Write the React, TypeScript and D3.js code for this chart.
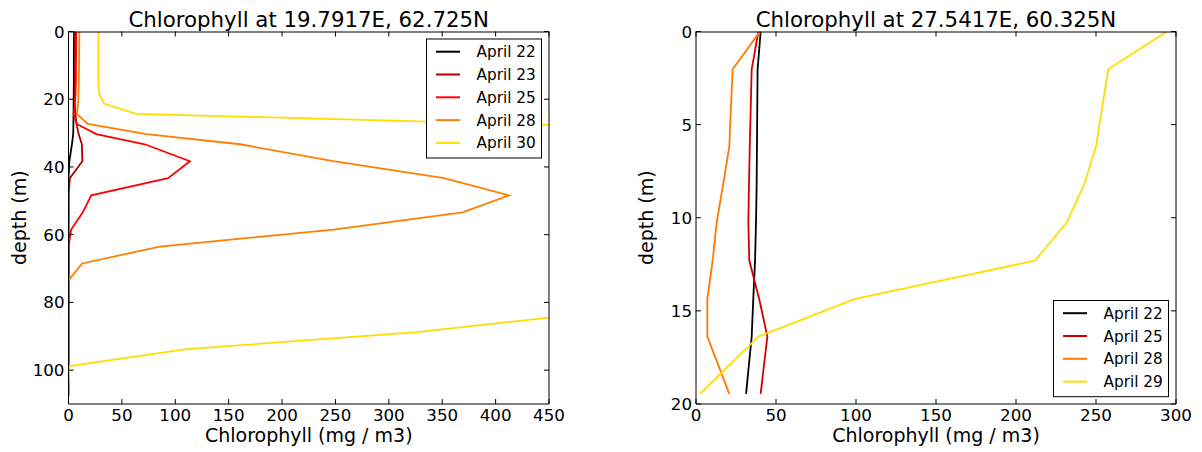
import React from 'react';
import * as d3 from 'd3';

// ---------- Left panel data (19.7917E, 62.725N) ----------
const depthsLeft = [0, 3.3, 6.3, 9.3, 12.3, 15.3, 18.3, 21.3, 24.3, 27.3, 30.3, 33.3, 38.3, 43.3, 48.4, 53.4, 58.5, 63.5, 68.5, 73.5, 78.6, 83.7, 88.8, 93.8, 98.8, 103.9, 107.5];
const leftLabels = ['April 22', 'April 23', 'April 25', 'April 28', 'April 30'];
const leftColors = ['#000000', '#b00000', '#ff0000', '#ff7f00', '#ffdd00'];
const leftApr22 = [5.2, 5.1, 5, 5, 5, 5, 4.9, 4.8, 4.7, 4.6, 4.4, 3.2, 0.8, 0, 0, 0, 0, 0, 0, 0, 0, 0, 0, 0, 0, 0, 0];
const leftApr23 = [6.2, 6.2, 6.2, 6.1, 6, 6, 5.9, 5.8, 6.5, 7.5, 9.5, 12.5, 13, 1.3, 0, 0, 0, 0, 0, 0, 0, 0, 0, 0, 0, 0, 0];
const leftApr25 = [7.2, 7.2, 7.1, 7, 7, 6.9, 6.6, 6.0, 4.7, 7.8, 26, 71.4, 113.7, 93.3, 21.3, 13.4, 2.5, 0, 0, 0, 0, 0, 0, 0, 0, 0, 0];
const leftApr28 = [10.2, 10.1, 10, 10, 9.8, 9.6, 9.3, 9, 7.8, 18, 73, 160.7, 248, 351.7, 412.7, 369, 248.3, 85.5, 12.8, 0, 0, 0, 0, 0, 0, 0, 0];
const leftApr30 = [28, 28, 28, 28, 28, 28, 28.8, 33, 63.6, 415, 766, 1050, 1400, 1600, 1700, 1650, 1500, 1300, 1100, 900, 700, 472, 326.7, 110.6, 1, 0, 0];
const leftXTicks = [0, 50, 100, 150, 200, 250, 300, 350, 400, 450];
const leftYTicks = [0, 20, 40, 60, 80, 100];

// ---------- Right panel data (27.5417E, 60.325N) ----------
const depthsRight = [0, 2.03, 4.1, 6.18, 8.24, 10.26, 12.3, 14.36, 16.38, 19.46];
const rightLabels = ['April 22', 'April 25', 'April 28', 'April 29'];
const rightColors = ['#000000', '#d40000', '#ff7a00', '#ffdd00'];
const rightApr22 = [40.4, 38.5, 38.3, 38.1, 37.9, 37.5, 36.9, 35.8, 34.8, 31.3];
const rightApr25 = [39, 34.8, 34.2, 33.6, 33.1, 32.7, 33.3, 39.5, 44.6, 40.4];
const rightApr28 = [40, 22.9, 21.8, 20.8, 16.9, 12.9, 10.4, 7.1, 7.1, 20.8];
const rightApr29 = [294.2, 257.7, 253.8, 250, 242.5, 231.7, 211.9, 99.4, 39, 2.5];
const rightXTicks = [0, 50, 100, 150, 200, 250, 300];
const rightYTicks = [0, 5, 10, 15, 20];

const FONT = 'DejaVu Sans, sans-serif';

type PanelProps = {
  id: string;
  x0: number; x1: number; y0: number; y1: number;
  xMax: number; yMax: number;
  xTicks: number[]; yTicks: number[];
  title: string;
  depths: number[];
  series: number[][];
  labels: string[];
  colors: string[];
  legendX: number; legendY: number; legendW: number;
};

function Panel(p: PanelProps) {
  const x = d3.scaleLinear().domain([0, p.xMax]).range([p.x0, p.x1]);
  const y = d3.scaleLinear().domain([0, p.yMax]).range([p.y0, p.y1]);
  const line = d3.line<[number, number]>().x(d => x(d[0])).y(d => y(d[1]));
  const tick = 5;
  const rowH = 22.8;
  const legendH = p.labels.length * rowH + 5;
  return (
    <g>
      <defs>
        <clipPath id={p.id}>
          <rect x={p.x0} y={p.y0} width={p.x1 - p.x0} height={p.y1 - p.y0} />
        </clipPath>
      </defs>
      <g clipPath={`url(#${p.id})`}>
        {p.series.map((vals, i) => (
          <path key={i}
            d={line(vals.map((v, j) => [v, p.depths[j]] as [number, number])) || ''}
            fill="none" stroke={p.colors[i]} strokeWidth={1.8} strokeLinejoin="miter" />
        ))}
      </g>
      {/* spines */}
      <line x1={p.x0} x2={p.x1} y1={p.y0 + 0.5} y2={p.y0 + 0.5} stroke="#000" strokeWidth={1} />
      <line x1={p.x0} x2={p.x1} y1={p.y1} y2={p.y1} stroke="#000" strokeWidth={1} />
      <line x1={p.x0} x2={p.x0} y1={p.y0} y2={p.y1} stroke="#000" strokeWidth={1} />
      <line x1={p.x1} x2={p.x1} y1={p.y0} y2={p.y1} stroke="#000" strokeWidth={1} />
      {/* ticks */}
      {p.xTicks.map(t => (
        <g key={'xt' + t}>
          <line x1={x(t)} x2={x(t)} y1={p.y1} y2={p.y1 - tick} stroke="#000" />
          <line x1={x(t)} x2={x(t)} y1={p.y0} y2={p.y0 + tick} stroke="#000" />
          <text x={x(t)} y={p.y1 + 17} fontFamily={FONT} fontSize={16.7} textAnchor="middle">{t}</text>
        </g>
      ))}
      {p.yTicks.map(t => (
        <g key={'yt' + t}>
          <line x1={p.x0} x2={p.x0 + tick} y1={y(t)} y2={y(t)} stroke="#000" />
          <line x1={p.x1} x2={p.x1 - tick} y1={y(t)} y2={y(t)} stroke="#000" />
          <text x={p.x0 - 4} y={y(t)} dy="0.36em" fontFamily={FONT} fontSize={16.7} textAnchor="end">{t}</text>
        </g>
      ))}
      <text x={(p.x0 + p.x1) / 2} y={p.y0 - 4.5} fontFamily={FONT} fontSize={21.3} textAnchor="middle">{p.title}</text>
      <text x={(p.x0 + p.x1) / 2} y={p.y1 + 38} fontFamily={FONT} fontSize={19} textAnchor="middle">Chlorophyll (mg / m3)</text>
      <text transform={`translate(${p.x0 - 43},${(p.y0 + p.y1) / 2}) rotate(-90)`} fontFamily={FONT} fontSize={19} textAnchor="middle">depth (m)</text>
      {/* legend */}
      <rect x={p.legendX} y={p.legendY} width={p.legendW} height={legendH} fill="#fff" stroke="#000" strokeWidth={1} />
      {p.labels.map((lab, i) => {
        const ry = p.legendY + 12.7 + i * rowH;
        return (
          <g key={lab}>
            <line x1={p.legendX + 9.5} x2={p.legendX + 33.5} y1={ry} y2={ry} stroke={p.colors[i]} strokeWidth={2} />
            <text x={p.legendX + 50} y={ry} dy="0.36em" fontFamily={FONT} fontSize={15.3}>{lab}</text>
          </g>
        );
      })}
    </g>
  );
}

export default function App() {
  return (
    <svg width={1202} height={452} style={{ position: 'absolute', left: 0, top: 0, background: '#fff' }}>
      <rect x={0} y={0} width={1202} height={452} fill="#fff" />
      <Panel id="clipL" x0={68.5} x1={549} y0={31.5} y1={404} xMax={450} yMax={110}
        xTicks={leftXTicks} yTicks={leftYTicks} title="Chlorophyll at 19.7917E, 62.725N"
        depths={depthsLeft} series={[leftApr22, leftApr23, leftApr25, leftApr28, leftApr30]}
        labels={leftLabels} colors={leftColors} legendX={426.5} legendY={39} legendW={115} />
      <Panel id="clipR" x0={696} x1={1176} y0={31.5} y1={404} xMax={300} yMax={20}
        xTicks={rightXTicks} yTicks={rightYTicks} title="Chlorophyll at 27.5417E, 60.325N"
        depths={depthsRight} series={[rightApr22, rightApr25, rightApr28, rightApr29]}
        labels={rightLabels} colors={rightColors} legendX={1053.5} legendY={300.5} legendW={115} />
    </svg>
  );
}
